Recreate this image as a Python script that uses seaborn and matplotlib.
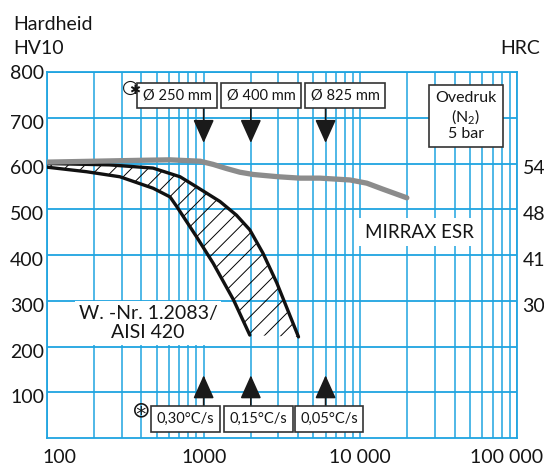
import numpy as np
import pandas as pd
import matplotlib
matplotlib.use("Agg")
import matplotlib.pyplot as plt
import matplotlib.transforms as mtransforms
from matplotlib.ticker import LogLocator, NullFormatter, FixedLocator
import seaborn as sns

# ---------------- data ----------------
# MIRRAX ESR hardness curve (time in s, HV10)
mirrax_t = [100, 200, 400, 610, 950, 1150, 1400, 1700, 2070, 3000, 4120, 5520, 8600, 11000, 13900, 19800]
mirrax_hv = [603, 605, 607, 608, 605, 598, 589, 581, 576, 571, 568, 568, 564, 557, 544, 525]

# W.-Nr. 1.2083 / AISI 420 band - upper limit
upper_t = [100, 250, 475, 707, 900, 1270, 1620, 1970, 2390, 2930, 4030]
upper_hv = [600, 597, 590, 571, 549, 517, 487, 455, 404, 339, 221]
# lower limit
lower_t = [100, 179, 292, 475, 610, 673, 900, 1150, 1550, 1970]
lower_hv = [592, 582, 571, 546, 527, 506, 440, 382, 302, 225]

# markers for bar diameters / cooling rates
arrow_t = [1000, 2000, 6000]
diam_labels = ["Ø 250 mm", "Ø 400 mm", "Ø 825 mm"]
rate_labels = ["0,30°C/s", "0,15°C/s", "0,05°C/s"]

y_ticks = [100, 200, 300, 400, 500, 600, 700, 800]
hrc_pos = [600, 500, 400, 300]
hrc_labels = ["54", "48", "41", "30"]
x_ticks = [100, 1000, 10000, 100000]
x_labels = ["100", "1000", "10 000", "100 000"]

# ---------------- style ----------------
sns.set_theme(style="white")
plt.rcParams["font.family"] = ["Lato", "DejaVu Sans"]
plt.rcParams["mathtext.fontset"] = "custom"
plt.rcParams["mathtext.rm"] = "Lato"
plt.rcParams["mathtext.it"] = "Lato"
plt.rcParams["hatch.linewidth"] = 0.7
BLUE = "#1fa4e0"
TXT = "#151515"
W, H = 544, 468

fig = plt.figure(figsize=(W / 100, H / 100), dpi=100)
ax = fig.add_axes([47 / W, 1 - 438 / H, 470 / W, 366 / H])
ax.set_xscale("log")
ax.set_xlim(100, 100000)
ax.set_ylim(0, 800)

# grid
ax.xaxis.set_major_locator(FixedLocator(x_ticks))
ax.xaxis.set_minor_locator(LogLocator(base=10, subs=np.arange(2, 10)))
ax.xaxis.set_minor_formatter(NullFormatter())
ax.set_xticks(x_ticks)
ax.set_xticklabels(x_labels)
ax.set_yticks(y_ticks)
ax.set_yticklabels([str(v) for v in y_ticks])
ax.grid(True, which="both", axis="x", color=BLUE, lw=1.1)
ax.grid(True, which="major", axis="y", color=BLUE, lw=1.3)
ax.set_axisbelow(True)
for s in ax.spines.values():
    s.set_color(BLUE)
    s.set_linewidth(1.3)
ax.tick_params(which="both", length=0)
ax.tick_params(axis="y", labelsize=14, pad=2, labelcolor=TXT)
ax.tick_params(axis="x", labelsize=14, pad=8, labelcolor=TXT)

# right axis HRC
ax2 = ax.twinx()
ax2.set_ylim(0, 800)
ax2.set_yticks(hrc_pos)
ax2.set_yticklabels(hrc_labels)
ax2.tick_params(length=0, labelsize=14, pad=4, labelcolor=TXT)
ax2.grid(False)
for s in ax2.spines.values():
    s.set_visible(False)

# shift edge x labels and y labels slightly
xl = ax.get_xticklabels()
xl[0].set_transform(xl[0].get_transform() + mtransforms.ScaledTranslation(12 / 100, 0, fig.dpi_scale_trans))
xl[-1].set_transform(xl[-1].get_transform() + mtransforms.ScaledTranslation(-10 / 100, 0, fig.dpi_scale_trans))
for lab in list(ax.get_yticklabels())[:-1] + list(ax2.get_yticklabels()):
    lab.set_transform(lab.get_transform() + mtransforms.ScaledTranslation(0, -4 / 100, fig.dpi_scale_trans))

# hatched band
band_t = np.concatenate([upper_t, lower_t[::-1]])
band_hv = np.concatenate([upper_hv, lower_hv[::-1]])
ax.fill(band_t, band_hv, facecolor="none", edgecolor="black", hatch="//", lw=0, zorder=2)

df_up = pd.DataFrame({"t": upper_t, "hv": upper_hv})
df_lo = pd.DataFrame({"t": lower_t, "hv": lower_hv})
df_mx = pd.DataFrame({"t": mirrax_t, "hv": mirrax_hv})
sns.lineplot(data=df_up, x="t", y="hv", ax=ax, color="#111", lw=2.4, sort=False, estimator=None, zorder=3)
sns.lineplot(data=df_lo, x="t", y="hv", ax=ax, color="#111", lw=2.4, sort=False, estimator=None, zorder=3)
sns.lineplot(data=df_mx, x="t", y="hv", ax=ax, color="#8c8c8c", lw=3.8, sort=False, estimator=None, zorder=4)
ax.set_xlabel("")
ax.set_ylabel("")

# arrows
for t in arrow_t:
    ax.annotate("", xy=(t, 645), xytext=(t, 722),
                arrowprops=dict(arrowstyle="-|>,head_length=1.45,head_width=0.65", mutation_scale=10,
                                color="#1a1a1a", lw=1.2, shrinkA=0, shrinkB=0), zorder=5)
    ax.annotate("", xy=(t, 137), xytext=(t, 68),
                arrowprops=dict(arrowstyle="-|>,head_length=1.45,head_width=0.65", mutation_scale=10,
                                color="#1a1a1a", lw=1.2, shrinkA=0, shrinkB=0), zorder=5)

def ftext(x, y, s, **kw):
    return fig.text(x / W, 1 - y / H, s, **kw)

box = dict(boxstyle="square,pad=0.38", fc="white", ec="#333", lw=1.2)
top_cx = [177, 261, 345]
for cx, s in zip(top_cx, diam_labels):
    ftext(cx, 95.5, s, ha="center", va="center", fontsize=10.5, color=TXT, bbox=box, zorder=6)
bot_cx = [185.5, 258.5, 329]
for cx, s in zip(bot_cx, rate_labels):
    ftext(cx, 419, s, ha="center", va="center", fontsize=10.5, color=TXT, bbox=box, zorder=6)

# asterisk marks
ftext(130.5, 87.5, "○", ha="center", va="center", fontsize=14, color=TXT, family="DejaVu Sans", zorder=5)
ftext(134.5, 91, "✱", ha="center", va="center", fontsize=9.5, color=TXT, family="DejaVu Sans", zorder=7)
ftext(141, 410, "⊛", ha="center", va="center", fontsize=16, color=TXT, family="DejaVu Sans")

# Ovedruk box
ftext(466, 116, "Ovedruk\n(N$_2$)\n5 bar", ha="center", va="center", fontsize=11.5, color=TXT,
      linespacing=1.1, bbox=dict(boxstyle="square,pad=0.4", fc="white", ec="#333", lw=1.2))

# curve labels
ftext(419, 232, "MIRRAX ESR", ha="center", va="center", fontsize=13.5, color=TXT,
      bbox=dict(boxstyle="square,pad=0.3", fc="white", ec="none"))
ftext(148, 323, "W. -Nr. 1.2083/\nAISI 420", ha="center", va="center", fontsize=14, color=TXT,
      linespacing=1.15, bbox=dict(boxstyle="square,pad=0.2", fc="white", ec="none"))

# axis titles
ftext(13, 25, "Hardheid", ha="left", va="center", fontsize=14, color=TXT)
ftext(13, 48, "HV10", ha="left", va="center", fontsize=14, color=TXT)
ftext(540, 48, "HRC", ha="right", va="center", fontsize=14, color=TXT)

fig.savefig("out.png", dpi=100)
